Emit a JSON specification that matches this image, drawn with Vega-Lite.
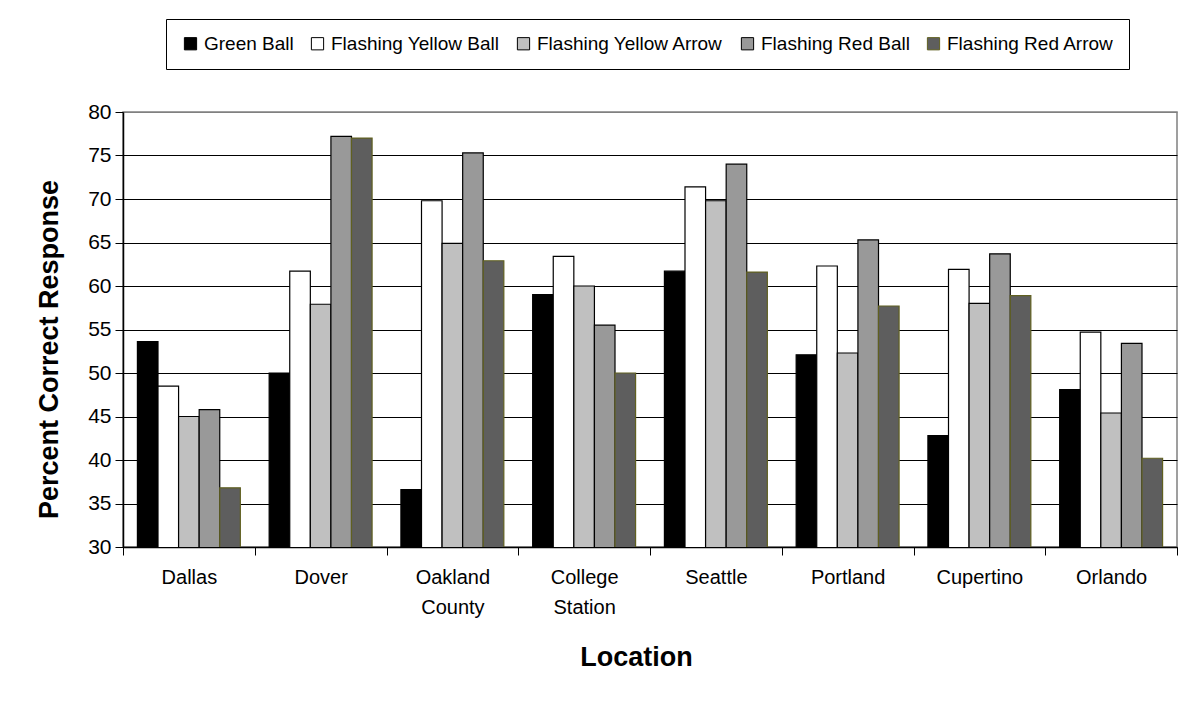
{
  "$schema": "https://vega.github.io/schema/vega-lite/v6.json",
  "width": 1054,
  "height": 435,
  "autosize": {"type": "none"},
  "padding": {"left": 123, "top": 112, "right": 22, "bottom": 166},
  "background": "white",
  "config": {
    "font": "Liberation Sans",
    "view": {"stroke": "#808080", "strokeWidth": 1.5}
  },
  "data": {
    "values": [
      {"loc": "Dallas", "sig": "Green Ball", "pct": 53.6},
      {"loc": "Dallas", "sig": "Flashing Yellow Ball", "pct": 48.5},
      {"loc": "Dallas", "sig": "Flashing Yellow Arrow", "pct": 45.0},
      {"loc": "Dallas", "sig": "Flashing Red Ball", "pct": 45.8},
      {"loc": "Dallas", "sig": "Flashing Red Arrow", "pct": 36.8},
      {"loc": "Dover", "sig": "Green Ball", "pct": 50.0},
      {"loc": "Dover", "sig": "Flashing Yellow Ball", "pct": 61.7},
      {"loc": "Dover", "sig": "Flashing Yellow Arrow", "pct": 57.9},
      {"loc": "Dover", "sig": "Flashing Red Ball", "pct": 77.2},
      {"loc": "Dover", "sig": "Flashing Red Arrow", "pct": 77.0},
      {"loc": "Oakland County", "sig": "Green Ball", "pct": 36.6},
      {"loc": "Oakland County", "sig": "Flashing Yellow Ball", "pct": 69.8},
      {"loc": "Oakland County", "sig": "Flashing Yellow Arrow", "pct": 64.9},
      {"loc": "Oakland County", "sig": "Flashing Red Ball", "pct": 75.3},
      {"loc": "Oakland County", "sig": "Flashing Red Arrow", "pct": 62.9},
      {"loc": "College Station", "sig": "Green Ball", "pct": 59.0},
      {"loc": "College Station", "sig": "Flashing Yellow Ball", "pct": 63.4},
      {"loc": "College Station", "sig": "Flashing Yellow Arrow", "pct": 60.0},
      {"loc": "College Station", "sig": "Flashing Red Ball", "pct": 55.5},
      {"loc": "College Station", "sig": "Flashing Red Arrow", "pct": 50.0},
      {"loc": "Seattle", "sig": "Green Ball", "pct": 61.7},
      {"loc": "Seattle", "sig": "Flashing Yellow Ball", "pct": 71.4},
      {"loc": "Seattle", "sig": "Flashing Yellow Arrow", "pct": 69.8},
      {"loc": "Seattle", "sig": "Flashing Red Ball", "pct": 74.0},
      {"loc": "Seattle", "sig": "Flashing Red Arrow", "pct": 61.6},
      {"loc": "Portland", "sig": "Green Ball", "pct": 52.1},
      {"loc": "Portland", "sig": "Flashing Yellow Ball", "pct": 62.3},
      {"loc": "Portland", "sig": "Flashing Yellow Arrow", "pct": 52.3},
      {"loc": "Portland", "sig": "Flashing Red Ball", "pct": 65.3},
      {"loc": "Portland", "sig": "Flashing Red Arrow", "pct": 57.7},
      {"loc": "Cupertino", "sig": "Green Ball", "pct": 42.8},
      {"loc": "Cupertino", "sig": "Flashing Yellow Ball", "pct": 61.9},
      {"loc": "Cupertino", "sig": "Flashing Yellow Arrow", "pct": 58.0},
      {"loc": "Cupertino", "sig": "Flashing Red Ball", "pct": 63.7},
      {"loc": "Cupertino", "sig": "Flashing Red Arrow", "pct": 58.9},
      {"loc": "Orlando", "sig": "Green Ball", "pct": 48.1},
      {"loc": "Orlando", "sig": "Flashing Yellow Ball", "pct": 54.7},
      {"loc": "Orlando", "sig": "Flashing Yellow Arrow", "pct": 45.4},
      {"loc": "Orlando", "sig": "Flashing Red Ball", "pct": 53.4},
      {"loc": "Orlando", "sig": "Flashing Red Arrow", "pct": 40.2}
    ]
  },
  "mark": {"type": "bar", "strokeWidth": 1.2, "clip": true},
  "encoding": {
    "x": {
      "field": "loc",
      "type": "nominal",
      "sort": ["Dallas", "Dover", "Oakland County", "College Station", "Seattle", "Portland", "Cupertino", "Orlando"],
      "scale": {"paddingInner": 0, "paddingOuter": 0},
      "axis": {
        "title": "Location",
        "titleFontSize": 27,
        "titleFontWeight": "bold",
        "titleColor": "black",
        "titleX": 513,
        "titleY": 110,
        "titleBaseline": "middle",
        "labelAngle": 0,
        "labelFontSize": 20,
        "labelColor": "black",
        "labelPadding": 12,
        "labelLineHeight": 30,
        "labelLimit": 0,
        "labelExpr": "split(datum.label, ' ')",
        "tickBand": "extent",
        "tickSize": 8,
        "tickColor": "black",
        "domainColor": "black",
        "domainWidth": 1.5
      }
    },
    "xOffset": {
      "field": "sig",
      "type": "nominal",
      "sort": ["Green Ball", "Flashing Yellow Ball", "Flashing Yellow Arrow", "Flashing Red Ball", "Flashing Red Arrow"],
      "scale": {"paddingInner": 0, "paddingOuter": 0.7}
    },
    "y": {
      "field": "pct",
      "type": "quantitative",
      "scale": {"domain": [30, 80], "nice": false, "zero": false},
      "axis": {
        "title": "Percent Correct Response",
        "titleFontSize": 27,
        "titleFontWeight": "bold",
        "titleColor": "black",
        "titlePadding": 24,
        "titleY": 237,
        "values": [30, 35, 40, 45, 50, 55, 60, 65, 70, 75, 80],
        "labelFontSize": 21,
        "labelColor": "black",
        "labelPadding": 4,
        "tickSize": 8,
        "tickColor": "black",
        "domainColor": "black",
        "domainWidth": 1.5,
        "grid": true,
        "gridColor": {"condition": {"test": "datum.value == 80", "value": "#808080"}, "value": "black"},
        "gridWidth": 1
      }
    },
    "fill": {
      "field": "sig",
      "type": "nominal",
      "scale": {
        "domain": ["Green Ball", "Flashing Yellow Ball", "Flashing Yellow Arrow", "Flashing Red Ball", "Flashing Red Arrow"],
        "range": ["#000000", "#ffffff", "#c0c0c0", "#999999", "#5e5e5e"]
      },
      "legend": {
        "title": null,
        "orient": "none",
        "legendX": 43,
        "legendY": -93,
        "direction": "horizontal",
        "columns": 5,
        "columnPadding": 14,
        "symbolType": "square",
        "symbolSize": 150,
        "symbolStrokeColor": "black",
        "symbolStrokeWidth": 1,
        "labelFontSize": 19,
        "labelLimit": 0,
        "labelColor": "black",
        "labelOffset": 4,
        "padding": 15,
        "fillColor": "white",
        "strokeColor": "black"
      }
    },
    "stroke": {
      "field": "sig",
      "type": "nominal",
      "scale": {
        "domain": ["Green Ball", "Flashing Yellow Ball", "Flashing Yellow Arrow", "Flashing Red Ball", "Flashing Red Arrow"],
        "range": ["#000000", "#000000", "#000000", "#000000", "#606020"]
      },
      "legend": null
    }
  }
}
